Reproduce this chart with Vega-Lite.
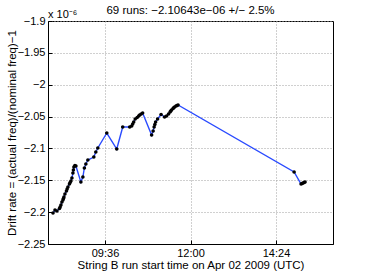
{
  "$schema": "https://vega.github.io/schema/vega-lite/v6.json",
  "autosize": "none",
  "width": 285,
  "height": 223,
  "padding": {"left": 48, "top": 21, "right": 35, "bottom": 33},
  "background": "white",
  "title": {
    "text": "69 runs: −2.10643e−06 +/− 2.5%",
    "font": "Liberation Sans",
    "fontSize": 11.5,
    "fontWeight": "normal",
    "color": "black",
    "offset": 0,
    "dy": 7
  },
  "config": {
    "view": {"stroke": "black", "strokeWidth": 1},
    "font": "Liberation Sans",
    "axis": {
      "labelFont": "Liberation Sans",
      "titleFont": "Liberation Sans",
      "labelFontSize": 11,
      "titleFontSize": 11.5,
      "titleFontWeight": "normal",
      "labelColor": "black",
      "titleColor": "black",
      "domainColor": "black",
      "tickColor": "black",
      "gridColor": "#a0a0a0",
      "gridDash": [1, 2],
      "gridWidth": 1
    }
  },
  "data": {
    "values": [
      {"t": "2009-04-02T08:08:24Z", "v": -2.2014},
      {"t": "2009-04-02T08:11:45Z", "v": -2.1967},
      {"t": "2009-04-02T08:15:06Z", "v": -2.1982},
      {"t": "2009-04-02T08:19:18Z", "v": -2.1943},
      {"t": "2009-04-02T08:20:28Z", "v": -2.1920},
      {"t": "2009-04-02T08:21:49Z", "v": -2.1888},
      {"t": "2009-04-02T08:23:30Z", "v": -2.1841},
      {"t": "2009-04-02T08:25:10Z", "v": -2.1810},
      {"t": "2009-04-02T08:26:01Z", "v": -2.1786},
      {"t": "2009-04-02T08:26:51Z", "v": -2.1762},
      {"t": "2009-04-02T08:28:32Z", "v": -2.1715},
      {"t": "2009-04-02T08:31:03Z", "v": -2.1668},
      {"t": "2009-04-02T08:32:13Z", "v": -2.1637},
      {"t": "2009-04-02T08:33:34Z", "v": -2.1606},
      {"t": "2009-04-02T08:36:05Z", "v": -2.1558},
      {"t": "2009-04-02T08:37:16Z", "v": -2.1535},
      {"t": "2009-04-02T08:38:36Z", "v": -2.1511},
      {"t": "2009-04-02T08:40:17Z", "v": -2.1464},
      {"t": "2009-04-02T08:41:57Z", "v": -2.1386},
      {"t": "2009-04-02T08:42:47Z", "v": -2.1339},
      {"t": "2009-04-02T08:43:38Z", "v": -2.1292},
      {"t": "2009-04-02T08:45:19Z", "v": -2.1268},
      {"t": "2009-04-02T08:47:00Z", "v": -2.1276},
      {"t": "2009-04-02T08:55:22Z", "v": -2.1527},
      {"t": "2009-04-02T08:58:44Z", "v": -2.1449},
      {"t": "2009-04-02T09:01:15Z", "v": -2.1307},
      {"t": "2009-04-02T09:03:46Z", "v": -2.1245},
      {"t": "2009-04-02T09:07:07Z", "v": -2.1182},
      {"t": "2009-04-02T09:17:11Z", "v": -2.1135},
      {"t": "2009-04-02T09:20:33Z", "v": -2.1056},
      {"t": "2009-04-02T09:23:54Z", "v": -2.0993},
      {"t": "2009-04-02T09:39:00Z", "v": -2.0758},
      {"t": "2009-04-02T09:55:47Z", "v": -2.1009},
      {"t": "2009-04-02T10:05:51Z", "v": -2.0664},
      {"t": "2009-04-02T10:17:36Z", "v": -2.0664},
      {"t": "2009-04-02T10:20:57Z", "v": -2.0648},
      {"t": "2009-04-02T10:22:38Z", "v": -2.0617},
      {"t": "2009-04-02T10:24:19Z", "v": -2.0585},
      {"t": "2009-04-02T10:26:50Z", "v": -2.0538},
      {"t": "2009-04-02T10:30:11Z", "v": -2.0515},
      {"t": "2009-04-02T10:32:42Z", "v": -2.0491},
      {"t": "2009-04-02T10:34:23Z", "v": -2.0475},
      {"t": "2009-04-02T10:36:54Z", "v": -2.0460},
      {"t": "2009-04-02T10:39:25Z", "v": -2.0444},
      {"t": "2009-04-02T10:54:31Z", "v": -2.0789},
      {"t": "2009-04-02T10:57:02Z", "v": -2.0727},
      {"t": "2009-04-02T10:58:43Z", "v": -2.0664},
      {"t": "2009-04-02T10:59:56Z", "v": -2.0625},
      {"t": "2009-04-02T11:01:14Z", "v": -2.0585},
      {"t": "2009-04-02T11:04:35Z", "v": -2.0538},
      {"t": "2009-04-02T11:10:28Z", "v": -2.0468},
      {"t": "2009-04-02T11:16:20Z", "v": -2.0507},
      {"t": "2009-04-02T11:19:41Z", "v": -2.0491},
      {"t": "2009-04-02T11:23:03Z", "v": -2.0460},
      {"t": "2009-04-02T11:25:34Z", "v": -2.0428},
      {"t": "2009-04-02T11:26:44Z", "v": -2.0413},
      {"t": "2009-04-02T11:28:05Z", "v": -2.0397},
      {"t": "2009-04-02T11:30:36Z", "v": -2.0373},
      {"t": "2009-04-02T11:31:43Z", "v": -2.0362},
      {"t": "2009-04-02T11:33:07Z", "v": -2.0350},
      {"t": "2009-04-02T11:35:38Z", "v": -2.0334},
      {"t": "2009-04-02T11:37:19Z", "v": -2.0326},
      {"t": "2009-04-02T11:39:00Z", "v": -2.0318},
      {"t": "2009-04-02T14:54:30Z", "v": -2.1370},
      {"t": "2009-04-02T15:06:13Z", "v": -2.1558},
      {"t": "2009-04-02T15:07:54Z", "v": -2.1551},
      {"t": "2009-04-02T15:09:34Z", "v": -2.1543},
      {"t": "2009-04-02T15:11:18Z", "v": -2.1535},
      {"t": "2009-04-02T15:12:55Z", "v": -2.1527}
    ]
  },
  "encoding": {
    "x": {
      "field": "t",
      "type": "temporal",
      "scale": {
        "type": "utc",
        "domain": [
          {"year": 2009, "month": 4, "date": 2, "hours": 8, "utc": true},
          {"year": 2009, "month": 4, "date": 2, "hours": 16, "utc": true}
        ],
        "nice": false
      },
      "axis": {
        "values": [
          {"year": 2009, "month": 4, "date": 2, "hours": 9, "minutes": 36, "utc": true},
          {"year": 2009, "month": 4, "date": 2, "hours": 12, "minutes": 0, "utc": true},
          {"year": 2009, "month": 4, "date": 2, "hours": 14, "minutes": 24, "utc": true}
        ],
        "labelExpr": "utcFormat(datum.value, '%H:%M')",
        "title": "String B run start time on Apr 02 2009 (UTC)",
        "tickSize": -4,
        "labelPadding": 7,
        "titlePadding": 1,
        "labelFlush": false
      }
    },
    "y": {
      "field": "v",
      "type": "quantitative",
      "scale": {"domain": [-2.25, -1.9], "nice": false, "zero": false},
      "axis": {
        "values": [-2.25, -2.2, -2.15, -2.1, -2.05, -2, -1.95, -1.9],
        "format": "~g",
        "title": "Drift rate = (actual freq)/(nominal freq)−1",
        "tickSize": -4,
        "labelPadding": 7,
        "titlePadding": 0,
        "labelFlush": false
      }
    }
  },
  "layer": [
    {"mark": {"type": "line", "color": "#2a4bff", "strokeWidth": 1.4}},
    {"mark": {"type": "point", "filled": true, "color": "black", "opacity": 1, "size": 13}},
    {
      "data": {"values": [{"t": "2009-04-02T08:00:00Z", "v": -1.9, "label": "x 10⁻⁶"}]},
      "mark": {"type": "text", "align": "left", "baseline": "bottom", "dy": -1, "fontSize": 11, "font": "Liberation Sans", "color": "black"},
      "encoding": {
        "text": {"field": "label"}
      }
    }
  ]
}
